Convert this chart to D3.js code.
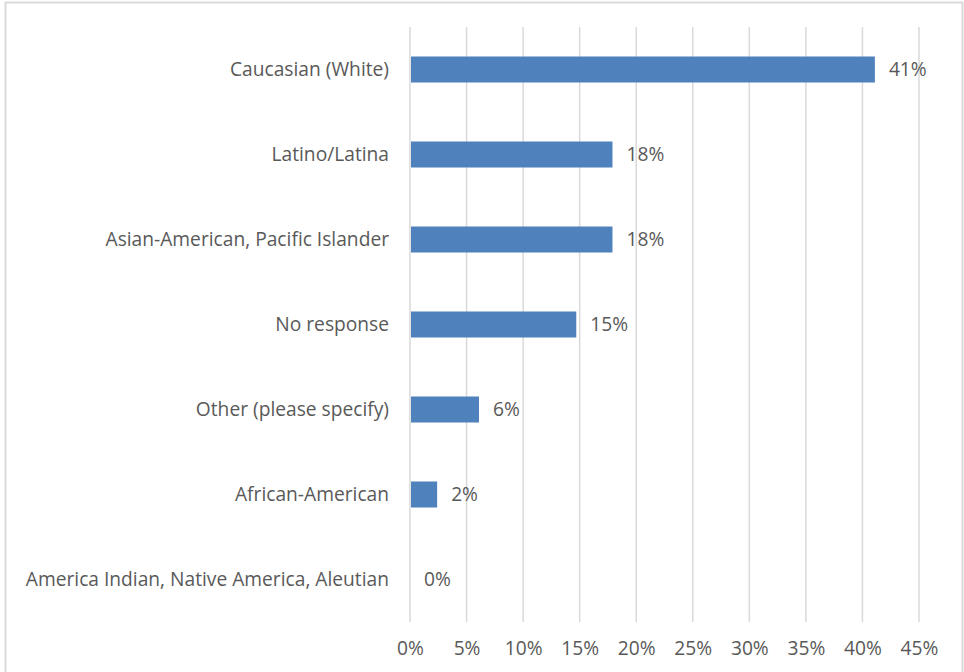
<!DOCTYPE html>
<html>
<head>
<meta charset="utf-8">
<script src="https://cdn.jsdelivr.net/npm/d3@7"></script>
<style>
  body { margin: 0; background: #fff; }
  svg { display: block; font-family: "Open Sans", sans-serif; }
</style>
</head>
<body>
<svg id="chart"></svg>
<script>
// Data
const categories = [
    "Caucasian (White)",
    "Latino/Latina",
    "Asian-American, Pacific Islander",
    "No response",
    "Other (please specify)",
    "African-American",
    "America Indian, Native America, Aleutian"
];
const shares = [41.1, 17.9, 17.9, 14.7, 6.1, 2.4, 0];
const xTicks = [0, 5, 10, 15, 20, 25, 30, 35, 40, 45];

const data = categories.map((c, i) => ({ name: c, value: shares[i] }));

// Set up SVG canvas
const width = 964, height = 672;
const margin = { top: 27, right: 45, bottom: 50, left: 410 };
const fontSize = "19.2px";
const svg = d3.select("#chart")
              .attr("width", width)
              .attr("height", height);

// Outer border
svg.append("rect")
   .attr("x", 5.5).attr("y", 2.5)
   .attr("width", 957).attr("height", 680)
   .attr("fill", "none")
   .attr("stroke", "#d9d9d9")
   .attr("stroke-width", 2);

// Scales
const xScale = d3.scaleLinear()
                 .domain([0, 45])
                 .range([margin.left, 919]);

const yScale = d3.scaleBand()
                 .domain(categories)
                 .range([margin.top, 622])
                 .paddingInner(0.694)
                 .paddingOuter(0.347);

// Vertical gridlines
svg.append("g")
   .selectAll("line")
   .data(xTicks)
   .join("line")
   .attr("x1", d => xScale(d)).attr("x2", d => xScale(d))
   .attr("y1", margin.top).attr("y2", 622)
   .attr("stroke", "#d9d9d9")
   .attr("stroke-width", 1.5);

// X-axis labels
const xAxis = svg.append("g")
   .attr("transform", `translate(0, 622)`)
   .call(d3.axisBottom(xScale).tickValues(xTicks).tickFormat(d => d + "%").tickSize(0).tickPadding(19));
xAxis.select(".domain").remove();
xAxis.selectAll("text")
     .attr("fill", "#595959")
     .style("font-size", fontSize)
     .style("font-family", "Open Sans, sans-serif");

// Y-axis labels
const yAxis = svg.append("g")
   .attr("transform", `translate(${margin.left}, 0)`)
   .call(d3.axisLeft(yScale).tickSize(0).tickPadding(21));
yAxis.select(".domain").remove();
yAxis.selectAll("text")
     .attr("fill", "#595959")
     .style("font-size", fontSize)
     .style("font-family", "Open Sans, sans-serif");

// Bars
svg.append("g")
   .selectAll("rect")
   .data(data)
   .join("rect")
   .attr("x", xScale(0) + 1)
   .attr("y", d => yScale(d.name))
   .attr("width", d => Math.max(0, xScale(d.value) - xScale(0) - 1))
   .attr("height", yScale.bandwidth())
   .attr("fill", "#4f81bd");

// Data labels
svg.append("g")
   .selectAll("text")
   .data(data)
   .join("text")
   .attr("x", d => xScale(d.value) + 14)
   .attr("y", d => yScale(d.name) + yScale.bandwidth() / 2)
   .attr("dy", "0.35em")
   .attr("fill", "#595959")
   .style("font-size", fontSize)
   .text(d => Math.round(d.value) + "%");
</script>
</body>
</html>
